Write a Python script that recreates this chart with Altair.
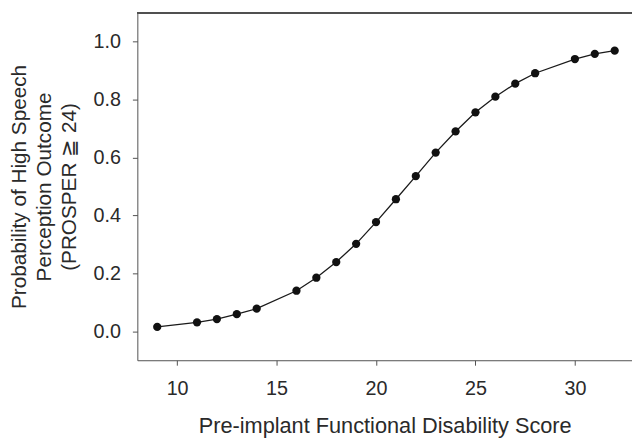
import altair as alt
import pandas as pd

scores = [9, 11, 12, 13, 14, 16, 17, 18, 19, 20, 21, 22, 23, 24, 25, 26, 27, 28, 30, 31, 32]
probs = [0.015, 0.031, 0.042, 0.059, 0.078, 0.140, 0.185, 0.239, 0.302, 0.377, 0.456,
         0.536, 0.617, 0.690, 0.756, 0.810, 0.855, 0.891, 0.940, 0.958, 0.969]
x_ticks = [10, 15, 20, 25, 30]
y_ticks = [0.0, 0.2, 0.4, 0.6, 0.8, 1.0]

df = pd.DataFrame({"score": scores, "prob": probs})

W, H = 501, 352
AXIS_GREY = "#505050"
TEXT = "#2a2a2a"
FONT = "Liberation Sans"

x = alt.X("score:Q",
          scale=alt.Scale(domain=[8, 32.87], nice=False, zero=False),
          axis=alt.Axis(title="Pre-implant Functional Disability Score", values=x_ticks,
                        format="d", grid=False, tickSize=5, labelPadding=14,
                        labelFontSize=20, titleFontSize=22, titlePadding=17))
y = alt.Y("prob:Q",
          scale=alt.Scale(domain=[-0.1, 1.1], nice=False, zero=False),
          axis=alt.Axis(title=["Probability of High Speech", "Perception Outcome",
                               "(PROSPER \u2267 24)"],
                        values=y_ticks, format=".1f", grid=False, tickSize=5,
                        labelPadding=12, labelFontSize=20, titleFontSize=21,
                        titlePadding=14, titleLineHeight=25))

base = alt.Chart(df)
line = base.mark_line(color="#1a1a1a", strokeWidth=1.3).encode(x=x, y=y)
pts = base.mark_circle(color="#111111", opacity=1, size=70).encode(x="score:Q", y="prob:Q")
top_border = base.mark_rule(color=AXIS_GREY, strokeWidth=1).encode(
    x=alt.value(0), x2=alt.value(W), y=alt.value(0))

chart = (alt.layer(line, pts, top_border)
         .properties(width=W, height=H,
                     autosize=alt.AutoSizeParams(type="none"),
                     padding={"left": 131, "top": 2, "right": 0, "bottom": 77})
         .configure_view(stroke=None)
         .configure_axis(domainColor=AXIS_GREY, tickColor=AXIS_GREY, domainWidth=1,
                         labelFont=FONT, titleFont=FONT,
                         labelColor=TEXT, titleColor=TEXT,
                         titleFontWeight="normal"))

chart.save("out.html", embed_options={"renderer": "svg", "actions": False})
